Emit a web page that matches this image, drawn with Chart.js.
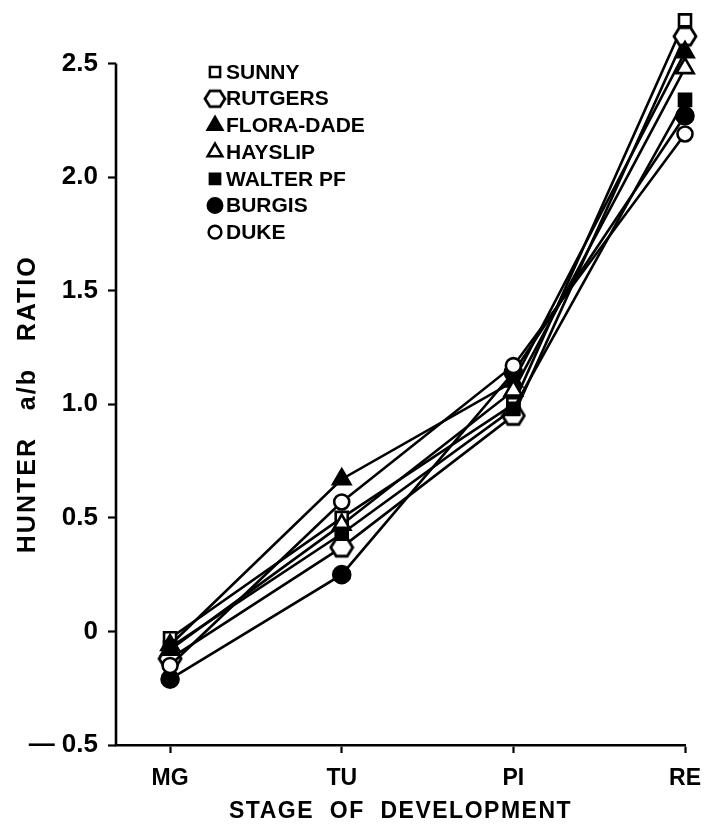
<!DOCTYPE html>
<html>
<head>
<meta charset="utf-8">
<script src="https://cdn.jsdelivr.net/npm/chart.js@4/dist/chart.umd.min.js"></script>
<style>
  html, body { margin: 0; padding: 0; background: #fff; }
  #wrap { width: 716px; height: 831px; }
</style>
</head>
<body>
<div id="wrap"><canvas id="abChart" width="716" height="831"></canvas></div>
<script>
// stages along the x axis
const stages = ['MG', 'TU', 'PI', 'RE'];
const yTicks = [-0.5, 0, 0.5, 1.0, 1.5, 2.0, 2.5];

// Hunter a/b ratio per cultivar
const sunny    = [-0.03, 0.50, 1.00, 2.69];
const rutgers  = [-0.12, 0.37, 0.95, 2.62];
const floraDade = [-0.06, 0.67, 1.10, 2.55];
const hayslip  = [-0.08, 0.47, 1.06, 2.48];
const walterPF = [-0.07, 0.43, 0.98, 2.34];
const burgis   = [-0.21, 0.25, 1.14, 2.27];
const duke     = [-0.15, 0.57, 1.17, 2.19];

const cultivars = ['SUNNY', 'RUTGERS', 'FLORA-DADE', 'HAYSLIP', 'WALTER PF', 'BURGIS', 'DUKE'];

// open hexagon marker for Rutgers (no built-in hexagon in Chart.js)
function hexagon(size) {
    const c = document.createElement('canvas');
    c.width = size; c.height = size;
    const g = c.getContext('2d');
    const r = size / 2 - 2;
    g.beginPath();
    for (let i = 0; i < 6; i++) {
        const a = Math.PI / 3 * i;
        const px = size / 2 + r * Math.cos(a);
        const py = size / 2 + r * Math.sin(a) * 0.92;
        if (i === 0) g.moveTo(px, py); else g.lineTo(px, py);
    }
    g.closePath();
    g.fillStyle = '#fff';
    g.fill();
    g.lineWidth = 2.8;
    g.strokeStyle = '#000';
    g.stroke();
    return c;
}
const hexImg = hexagon(26);
const hexSmall = hexagon(24);

function pts(values) {
    return values.map((v, i) => ({ x: i, y: v }));
}

const styles = [
    { style: 'rect', fill: '#fff', r: 8.5 },
    { style: hexImg, fill: '#fff', r: 11 },
    { style: 'triangle', fill: '#000', r: 10 },
    { style: 'triangle', fill: '#fff', r: 10 },
    { style: 'rect', fill: '#000', r: 8.5 },
    { style: 'circle', fill: '#000', r: 8.5 },
    { style: 'circle', fill: '#fff', r: 7.5 }
];
const series = [sunny, rutgers, floraDade, hayslip, walterPF, burgis, duke];

const datasets = series.map((vals, k) => ({
    label: cultivars[k],
    data: pts(vals),
    borderColor: '#000',
    borderWidth: 2.6,
    pointStyle: styles[k].style,
    pointRadius: styles[k].r,
    pointBackgroundColor: styles[k].fill,
    pointBorderColor: '#000',
    pointBorderWidth: 2.6,
    clip: false,
    order: 7 - k
}));

const FONT = "'Liberation Sans', Arial, sans-serif";

// y axis line only runs from -0.5 to 2.5 (the scale goes a bit higher so the top markers show),
// plus both axis titles, drawn by hand for letter spacing and placement
const axisExtras = {
    id: 'axisExtras',
    beforeDatasetsDraw(chart) {
        const y = chart.scales.y;
        const ctx = chart.ctx;
        const top = y.getPixelForValue(2.5), bottom = y.getPixelForValue(-0.5);
        ctx.save();
        ctx.strokeStyle = '#000';
        ctx.lineWidth = 2.6;
        ctx.beginPath();
        ctx.moveTo(chart.chartArea.left, bottom + 1);
        ctx.lineTo(chart.chartArea.left, top);
        ctx.stroke();

        ctx.fillStyle = '#000';
        ctx.textAlign = 'center';
        ctx.textBaseline = 'middle';
        ctx.font = 'bold 25px ' + FONT;
        ctx.letterSpacing = '2px';
        ctx.save();
        ctx.translate(28, (top + bottom) / 2);
        ctx.rotate(-Math.PI / 2);
        ctx.fillText('HUNTER   a/b   RATIO', 0, 0);
        ctx.restore();

        ctx.font = 'bold 23px ' + FONT;
        ctx.letterSpacing = '1.5px';
        ctx.fillText('STAGE  OF  DEVELOPMENT', (chart.chartArea.left + chart.chartArea.right) / 2, 812);
        ctx.restore();
    }
};

// legend drawn inside the plot, top left
const insideLegend = {
    id: 'insideLegend',
    afterDraw(chart) {
        const ctx = chart.ctx;
        const x0 = 215, y0 = 72, step = 26.7;
        ctx.save();
        ctx.font = 'bold 21px ' + FONT;
        ctx.textBaseline = 'middle';
        cultivars.forEach((name, k) => {
            const y = y0 + k * step;
            const st = styles[k];
            ctx.strokeStyle = '#000';
            ctx.lineWidth = 2.5;
            ctx.fillStyle = st.fill;
            Chart.helpers.drawPoint(ctx, {
                pointStyle: k === 1 ? hexSmall : st.style, radius: st.r * 0.85, rotation: 0, borderWidth: 2.5
            }, x0, y);
            ctx.fillStyle = '#000';
            ctx.fillText(name, x0 + 11, y + 1);
        });
        ctx.restore();
    }
};

new Chart(document.getElementById('abChart').getContext('2d'), {
    type: 'line',
    data: { datasets: datasets },
    options: {
        responsive: false,
        animation: false,
        layout: { padding: { top: 0, right: 31, left: 0, bottom: 0 } },
        plugins: {
            legend: { display: false },
            tooltip: { enabled: false }
        },
        scales: {
            x: {
                type: 'linear',
                min: -0.315,
                max: 3,
                afterBuildTicks: (scale) => { scale.ticks = stages.map((s, i) => ({ value: i })); },
                afterFit: (scale) => { scale.height = 86; },
                grid: { display: true, drawOnChartArea: false, drawTicks: true, tickLength: 8, tickColor: '#000', tickWidth: 2.2 },
                border: { display: true, color: '#000', width: 2.6 },
                ticks: {
                    color: '#000',
                    font: { family: FONT, size: 23, weight: 'bold' },
                    padding: 12,
                    maxRotation: 0,
                    callback: (v) => stages[v]
                },
                title: { display: false }
            },
            y: {
                min: -0.5,
                max: 2.72,
                afterBuildTicks: (scale) => { scale.ticks = yTicks.map(v => ({ value: v })); },
                afterFit: (scale) => { scale.width = 116; scale.paddingTop = 0; scale.paddingBottom = 0; },
                grid: { display: true, drawOnChartArea: false, drawTicks: true, tickLength: 8, tickColor: '#000', tickWidth: 2.2 },
                border: { display: false },
                ticks: {
                    color: '#000',
                    font: { family: FONT, size: 26, weight: 'bold' },
                    padding: 10,
                    callback: (v) => v === 0 ? '0' : (v < 0 ? '\u2014 ' + Math.abs(v).toFixed(1) : v.toFixed(1))
                },
                title: { display: false }
            }
        }
    },
    plugins: [axisExtras, insideLegend]
});
</script>
</body>
</html>
